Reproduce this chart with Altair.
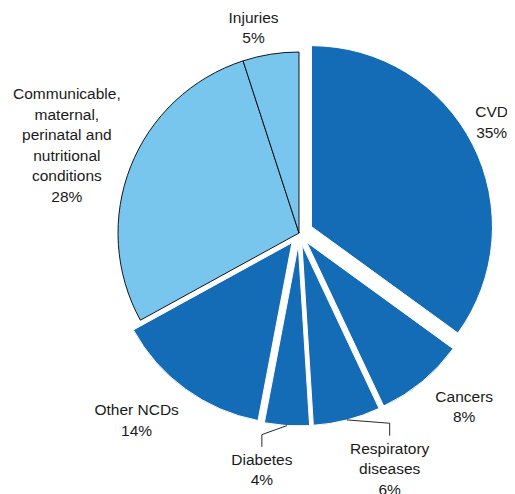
import altair as alt
import pandas as pd

# ---- data ----
CATEGORIES = ["CVD", "Cancers", "Respiratory diseases", "Diabetes", "Other NCDs",
              "Communicable, maternal, perinatal and nutritional conditions", "Injuries"]
LABEL_TEXT = ["CVD", "Cancers", "Respiratory\ndiseases", "Diabetes", "Other NCDs",
              "Communicable,\nmaternal,\nperinatal and\nnutritional\nconditions", "Injuries"]
SHARES = [35, 8, 6, 4, 14, 28, 5]
GROUPS = ["NCD", "NCD", "NCD", "NCD", "NCD", "Other", "Other"]

# ---- styles ----
DARK = "#146cb6"
LIGHT = "#78c6ee"
PIE_RADIUS = 181
FONT_SIZE = 15.5
LINE_HEIGHT = 20.5
EXPLODE = {"CVD": 14, "Cancers": 12, "Respiratory diseases": 12, "Diabetes": 12,
           "Other NCDs": 12}
LABEL_RADIUS = {"CVD": 222, "Cancers": 240, "Respiratory diseases": 253, "Diabetes": 240,
                "Other NCDs": 248,
                "Communicable, maternal, perinatal and nutritional conditions": 248,
                "Injuries": 210}
LABEL_NUDGE = {"CVD": -2.8, "Cancers": -3.9, "Respiratory diseases": -6.6, "Diabetes": 5.3,
               "Other NCDs": 4.9,
               "Communicable, maternal, perinatal and nutritional conditions": -1.0,
               "Injuries": -3.5}
LEADER_DROP = {"Respiratory diseases": 3.3, "Diabetes": 9}

df = pd.DataFrame({
    "category": CATEGORIES,
    "label": [f"{t}\n{s}%" for t, s in zip(LABEL_TEXT, SHARES)],
    "share": SHARES,
    "group": GROUPS,
    "order": list(range(len(CATEGORIES))),
})
df["explode"] = df["category"].map(EXPLODE).fillna(0)
df["lab_r"] = df["category"].map(LABEL_RADIUS)
df["lab_nudge"] = df["category"].map(LABEL_NUDGE)
df["leader"] = df["category"].isin(list(LEADER_DROP))
df["drop"] = df["category"].map(LEADER_DROP).fillna(0)
df["nlines"] = df["label"].str.count("\n") + 1

xs = alt.Scale(domain=[-200, 200])
ys = alt.Scale(domain=[-200, 200])

base = alt.Chart(df).transform_window(
    cum="sum(share)", sort=[alt.SortField("order")], frame=[None, 0]
).transform_joinaggregate(
    total="sum(share)"
).transform_calculate(
    t0="2*PI*(datum.cum - datum.share)/datum.total",
    t1="2*PI*datum.cum/datum.total",
).transform_calculate(
    mid="(datum.t0 + datum.t1)/2",
).transform_calculate(
    ox="datum.explode*sin(datum.mid)",
    oy="datum.explode*cos(datum.mid)",
    la="datum.mid + datum.lab_nudge*PI/180",
    er=f"{PIE_RADIUS} + datum.explode",
).transform_calculate(
    lx="datum.lab_r*sin(datum.la)",
    ly="datum.lab_r*cos(datum.la)",
    edx="datum.er*sin(datum.mid)",
    edy="datum.er*cos(datum.mid)",
).transform_calculate(
    cy="datum.edy - datum.drop",
    ty=f"datum.ly + (datum.nlines - 1)*{LINE_HEIGHT}/2 + 13",
    tly=f"datum.ly + (datum.nlines - 1)*{LINE_HEIGHT}/2",
)

light = base.transform_filter("datum.group == 'Other'").mark_arc(
    outerRadius=PIE_RADIUS, stroke="black", strokeWidth=0.9, color=LIGHT
).encode(
    theta=alt.Theta("t0:Q", scale=None),
    theta2=alt.Theta2("t1:Q"),
    x=alt.X("ox:Q", scale=xs, axis=None),
    y=alt.Y("oy:Q", scale=ys, axis=None),
)

dark = base.transform_filter("datum.group == 'NCD'").mark_arc(
    outerRadius=PIE_RADIUS, stroke="white", strokeWidth=1, color=DARK
).encode(
    theta=alt.Theta("t0:Q", scale=None),
    theta2=alt.Theta2("t1:Q"),
    x=alt.X("ox:Q", scale=xs, axis=None),
    y=alt.Y("oy:Q", scale=ys, axis=None),
)

lead1 = base.transform_filter("datum.leader").mark_rule(color="#111111", strokeWidth=0.9).encode(
    x=alt.X("edx:Q", scale=xs, axis=None),
    y=alt.Y("edy:Q", scale=ys, axis=None),
    x2="lx:Q",
    y2="cy:Q",
)
lead2 = base.transform_filter("datum.leader").mark_rule(color="#111111", strokeWidth=0.9).encode(
    x=alt.X("lx:Q", scale=xs, axis=None),
    y=alt.Y("cy:Q", scale=ys, axis=None),
    x2="lx:Q",
    y2="ty:Q",
)

labels = base.mark_text(
    lineBreak="\n", align="center", baseline="middle", fontSize=FONT_SIZE,
    lineHeight=LINE_HEIGHT, font="Liberation Sans", color="#1a1a1a"
).encode(
    x=alt.X("lx:Q", scale=xs, axis=None),
    y=alt.Y("tly:Q", scale=ys, axis=None),
    text="label:N",
)

chart = alt.layer(light, dark, lead1, lead2, labels).properties(
    width=400, height=400,
    padding={"left": 91, "top": 25, "right": 8, "bottom": 61},
    autosize="none",
).configure_view(stroke=None)

chart.save("out.html", embed_options={"renderer": "svg", "actions": False})
